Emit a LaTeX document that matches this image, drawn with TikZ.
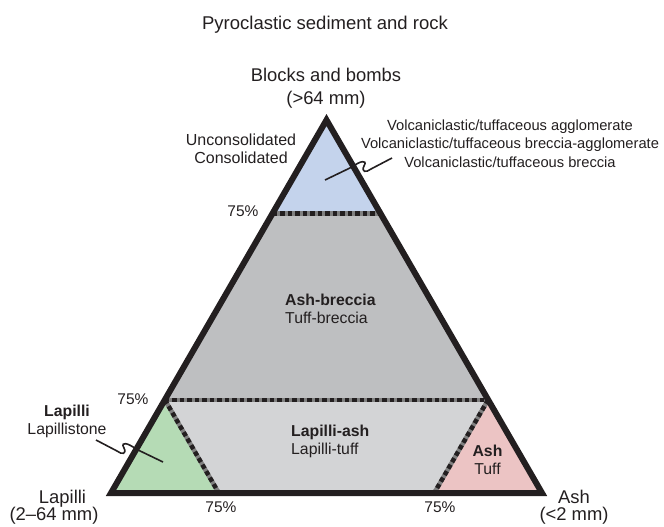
\documentclass[tikz,border=0pt]{standalone}
\usepackage{fontspec}
\setmainfont{Liberation Sans}
\usetikzlibrary{calc}
\definecolor{ink}{RGB}{35,31,32}
\definecolor{blockblue}{RGB}{196,211,236}
\definecolor{brecciagray}{RGB}{190,191,193}
\definecolor{tuffgray}{RGB}{211,212,214}
\definecolor{lapilligreen}{RGB}{181,219,181}
\definecolor{ashpink}{RGB}{236,196,196}
\definecolor{dotgray}{RGB}{128,128,128}
\newcommand{\fsz}[2]{\fontsize{#1}{#2}\selectfont}

\begin{document}
\begin{tikzpicture}[
  x=1pt, y=-1pt,
  every node/.style={text=ink, inner sep=0pt},
  border/.style = {draw=ink, line width=6pt, line join=miter},
  limit/.style = {draw=dotgray, line width=4.5pt, postaction={draw=ink, dash pattern=on 4.5pt off 3pt}},
  leader/.style = {draw=ink, line width=1.6pt},
  corner/.style = {font=\fsz{18.4}{22}},
  field/.style = {font=\fsz{15.8}{18}},
  pct/.style = {font=\fsz{15.5}{18}}
  ]
	\useasboundingbox (0,0) rectangle (664,527);

	\coordinate (@A) at (326.5,120);
	\coordinate (@L) at (111,493);
	\coordinate (@R) at (542,493);
	\coordinate (@tl) at ($(@A)!0.25!(@L)$);
	\coordinate (@tr) at ($(@A)!0.25!(@R)$);
	\coordinate (@ml) at ($(@L)!0.25!(@A)$);
	\coordinate (@mr) at ($(@R)!0.25!(@A)$);
	\coordinate (@bl) at ($(@L)!0.25!(@R)$);
	\coordinate (@br) at ($(@R)!0.25!(@L)$);

	% fields
	\fill[blockblue] (@A) -- (@tl) -- (@tr) -- cycle;
	\fill[brecciagray] (@tl) -- (@tr) -- (@mr) -- (@ml) -- cycle;
	\fill[tuffgray] (@ml) -- (@mr) -- (@br) -- (@bl) -- cycle;
	\fill[lapilligreen] (@L) -- (@ml) -- (@bl) -- cycle;
	\fill[ashpink] (@R) -- (@mr) -- (@br) -- cycle;

	\draw[limit] (@tl) -- (@tr);
	\draw[limit] (@ml) -- (@mr);
	\draw[limit] (@ml) -- (@bl);
	\draw[limit] (@mr) -- (@br);

	\draw[border] (@A) -- (@L) -- (@R) -- cycle;

	% titles and corners
	\node[font=\fsz{18.5}{22}] (title) at (325,25) {Pyroclastic sediment and rock};
	\node[corner] (blocks) at (326,75) {Blocks and bombs};
	\node[corner] (blocksize) at (326,100) {(>64 mm)};
	\node[corner] (lapilli) at (62.5,499) {Lapilli};
	\node[corner] (lapillisize) at (54,516) {(2--64 mm)};
	\node[corner] (ash) at (574,497) {Ash};
	\node[corner] (ashsize) at (574,516) {(<2 mm)};

	\node[pct] (p1) at (243,211) {75\%};
	\node[pct] (p2) at (133,399) {75\%};
	\node[pct] (p3) at (221,507) {75\%};
	\node[pct] (p4) at (440,507) {75\%};

	\node[font=\fsz{16}{18}, align=center] (consol) at (241,149) {Unconsolidated\\Consolidated};
	\node[font=\fsz{14.7}{18.5}, align=center] (volc) at (510,143.5)
		{Volcaniclastic/tuffaceous agglomerate\\Volcaniclastic/tuffaceous breccia-agglomerate\\Volcaniclastic/tuffaceous breccia};

	\node[field, align=left, anchor=west] (ashbreccia) at (285,309) {\textbf{Ash-breccia}\\Tuff-breccia};
	\node[field, align=left, anchor=west] (lapilliash) at (291,441) {\textbf{Lapilli-ash}\\Lapilli-tuff};
	\node[field, align=center] (ashtuff) at (487.5,459.5) {\textbf{Ash}\\Tuff};
	\node[field, align=center] (lapillistone) at (67,421.5) {\textbf{Lapilli}\\Lapillistone};

	% leaders
	\coordinate (@bin) at (325,180);
	\coordinate (@bout) at (392,158);
	\coordinate (@lin) at (163,462);
	\coordinate (@lout) at (96,440);
	\draw[leader] (@bin) -- (352,167) .. controls (360,161) and (368,159) .. (364,166)
		.. controls (361,172) and (366,173) .. (371,169) -- (@bout);
	\draw[leader] (@lin) -- (136,449) .. controls (128,443) and (120,441) .. (124,448)
		.. controls (127,454) and (122,455) .. (117,451) -- (@lout);

\end{tikzpicture}
\end{document}
